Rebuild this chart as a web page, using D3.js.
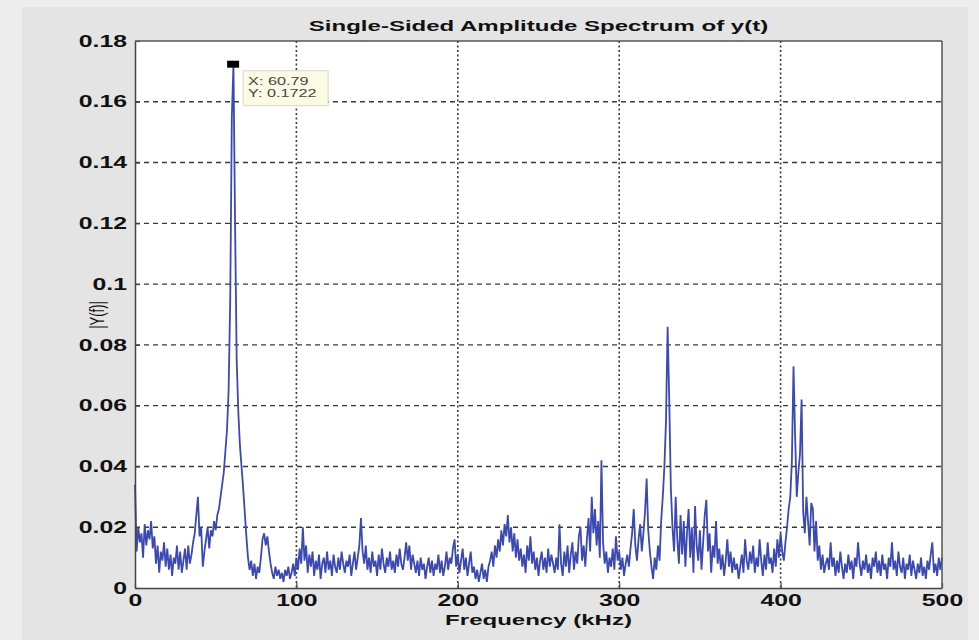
<!DOCTYPE html>
<html>
<head>
<meta charset="utf-8">
<script src="https://cdn.jsdelivr.net/npm/d3@7"></script>
<style>
  html, body { margin: 0; padding: 0; background: #ececec; }
  svg { display: block; }
</style>
</head>
<body>
<svg id="chart" width="979" height="640"></svg>
<script>
// ---------------- data ----------------
const titleText = "Single-Sided Amplitude Spectrum of y(t)";
const xLabelText = "Frequency (kHz)";
const yLabelText = "|Y(f)|";
const xTickValues = [0, 100, 200, 300, 400, 500];
const xTickLabels = ["0", "100", "200", "300", "400", "500"];
const yTickValues = [0, 0.02, 0.04, 0.06, 0.08, 0.1, 0.12, 0.14, 0.16, 0.18];
const yTickLabels = ["0", "0.02", "0.04", "0.06", "0.08", "0.1", "0.12", "0.14", "0.16", "0.18"];
const freqStepKHz = 1;
const amplitude = [
  .034,.012,.020,.015,.018,.010,.021,.014,.019,.016,
  .022,.013,.017,.008,.014,.005,.012,.009,.015,.007,
  .013,.006,.011,.004,.010,.008,.014,.006,.012,.005,
  .009,.013,.006,.014,.008,.011,.015,.018,.024,.030,
  .017,.020,.007,.012,.016,.020,.013,.019,.017,.022,
  .019,.024,.026,.030,.034,.038,.045,.052,.065,.095,
  .155,.1722,.120,.075,.058,.047,.040,.033,.025,.017,
  .010,.006,.009,.004,.008,.003,.007,.005,.010,.016,
  .018,.014,.017,.012,.008,.005,.003,.007,.004,.006,
  .003,.005,.002,.006,.004,.007,.003,.005,.008,.004,
  .010,.006,.013,.008,.020,.009,.014,.005,.011,.007,
  .012,.004,.009,.006,.011,.003,.008,.010,.005,.012,
  .006,.009,.004,.011,.007,.005,.010,.006,.012,.008,
  .005,.009,.007,.011,.004,.008,.012,.006,.010,.014,
  .023,.012,.008,.014,.006,.010,.005,.012,.007,.009,
  .004,.011,.006,.013,.008,.005,.010,.007,.012,.006,
  .009,.005,.011,.007,.013,.008,.006,.010,.015,.009,
  .014,.006,.011,.008,.005,.009,.004,.010,.006,.008,
  .003,.007,.010,.005,.009,.004,.008,.006,.011,.005,
  .009,.004,.007,.012,.006,.010,.008,.013,.016,.007,
  .011,.005,.009,.013,.006,.010,.004,.008,.012,.005,
  .007,.003,.006,.002,.005,.008,.003,.006,.002,.007,
  .009,.012,.007,.014,.010,.016,.012,.019,.014,.021,
  .017,.024,.015,.020,.012,.018,.010,.016,.009,.013,
  .007,.011,.005,.014,.009,.017,.008,.012,.006,.010,
  .004,.009,.012,.006,.010,.005,.013,.007,.011,.008,
  .005,.010,.006,.021,.008,.004,.012,.007,.014,.005,
  .011,.015,.006,.012,.008,.017,.020,.009,.014,.007,
  .016,.023,.012,.030,.018,.026,.014,.022,.010,.042,
  .015,.008,.012,.005,.010,.007,.013,.006,.017,.009,
  .012,.006,.010,.004,.008,.011,.007,.013,.018,.026,
  .014,.009,.016,.021,.012,.018,.025,.036,.019,.012,
  .007,.003,.010,.006,.014,.009,.022,.030,.040,.055,
  .086,.062,.033,.020,.012,.030,.016,.008,.024,.011,
  .022,.007,.018,.026,.010,.020,.005,.027,.014,.009,
  .019,.006,.015,.024,.029,.012,.018,.005,.014,.010,
  .022,.008,.013,.006,.011,.004,.009,.016,.007,.012,
  .005,.010,.006,.008,.003,.007,.011,.005,.016,.009,
  .006,.012,.008,.014,.005,.010,.007,.016,.009,.004,
  .011,.006,.015,.008,.010,.005,.013,.007,.016,.010,
  .018,.012,.009,.015,.020,.026,.030,.042,.073,.050,
  .030,.038,.044,.062,.025,.018,.030,.022,.014,.028,
  .026,.012,.022,.009,.014,.006,.011,.005,.008,.010,
  .006,.015,.007,.010,.004,.009,.005,.012,.007,.003,
  .008,.005,.011,.006,.009,.003,.010,.007,.015,.008,
  .004,.009,.006,.011,.005,.008,.003,.010,.007,.012,
  .005,.009,.004,.011,.006,.008,.003,.010,.007,.015,
  .006,.009,.004,.012,.007,.005,.010,.003,.008,.006,
  .011,.004,.009,.006,.003,.008,.005,.010,.004,.007,
  .003,.009,.006,.011,.015,.005,.008,.004,.010,.006,
  .010
];
const frequency = amplitude.map((_, i) => i * freqStepKHz);
const tipX = 60.79;
const tipY = 0.1722;
const tipLines = ["X: 60.79", "Y: 0.1722"];

// ---------------- layout ----------------
const svg = d3.select("#chart");
const W = 979, H = 640;
const plot = { left: 135, right: 942, top: 41, bottom: 588 };
const stretch = 1.55;   // text in the picture is widened horizontally
const fontFam = "Arial, 'Liberation Sans', Helvetica, sans-serif";

svg.append("rect").attr("x", 0).attr("y", 0).attr("width", W).attr("height", H).attr("fill", "#ededed");
svg.append("rect").attr("x", 22).attr("y", 7).attr("width", 946).attr("height", 640).attr("fill", "#e4e4e4");

const x = d3.scaleLinear().domain([0, 500]).range([plot.left, plot.right]);
const y = d3.scaleLinear().domain([0, 0.18]).range([plot.bottom, plot.top]);

svg.append("rect")
  .attr("x", plot.left).attr("y", plot.top)
  .attr("width", plot.right - plot.left).attr("height", plot.bottom - plot.top)
  .attr("fill", "#ffffff");

// grid
const grid = svg.append("g");
grid.selectAll("line.h").data(yTickValues.filter(v => v > 0 && v < 0.18)).enter().append("line")
  .attr("x1", plot.left).attr("x2", plot.right)
  .attr("y1", d => y(d)).attr("y2", d => y(d))
  .attr("stroke", "#3a3a3a").attr("stroke-width", 1.4).attr("stroke-dasharray", "5,4");
grid.selectAll("line.v").data(xTickValues.filter(v => v > 0 && v < 500)).enter().append("line")
  .attr("y1", plot.top).attr("y2", plot.bottom)
  .attr("x1", d => x(d)).attr("x2", d => x(d))
  .attr("stroke", "#3a3a3a").attr("stroke-width", 1.6).attr("stroke-dasharray", "2,2.5");

// spectrum line
const line = d3.line().x((d, i) => x(frequency[i])).y(d => y(d));
svg.append("path")
  .datum(amplitude)
  .attr("d", line)
  .attr("fill", "none")
  .attr("stroke", "#3b49b2")
  .attr("stroke-width", 1.8)
  .attr("stroke-linejoin", "miter");

// axes
const xAxis = d3.axisBottom(x).tickValues(xTickValues).tickFormat((d, i) => xTickLabels[i]).tickSizeInner(-5).tickSizeOuter(0).tickPadding(8);
const yAxis = d3.axisLeft(y).tickValues(yTickValues).tickFormat((d, i) => yTickLabels[i]).tickSizeInner(-5).tickSizeOuter(0).tickPadding(8);

const gx = svg.append("g").attr("transform", `translate(0,${plot.bottom})`).call(xAxis);
const gy = svg.append("g").attr("transform", `translate(${plot.left},0)`).call(yAxis);
[gx, gy].forEach(g => {
  g.select(".domain").attr("stroke", "#444").attr("stroke-width", 1.5);
  g.selectAll(".tick line").attr("stroke", "#444").attr("stroke-width", 1.2);
  g.selectAll(".tick text").attr("fill", "#111").attr("font-family", fontFam)
    .attr("font-weight", "bold").attr("font-size", "16px");
});
gy.selectAll(".tick text").attr("x", -8 / stretch).attr("transform", `scale(${stretch},1)`);
gx.selectAll(".tick text").attr("dy", "0.6em").attr("transform", `scale(${stretch},1)`);

// box top/right
svg.append("line").attr("x1", plot.left).attr("x2", plot.right).attr("y1", plot.top).attr("y2", plot.top)
  .attr("stroke", "#555").attr("stroke-width", 1.5);
svg.append("line").attr("x1", plot.right).attr("x2", plot.right).attr("y1", plot.top).attr("y2", plot.bottom)
  .attr("stroke", "#555").attr("stroke-width", 1.5);

// title and labels
function stretchedText(px, py, txt, opts) {
  return svg.append("text")
    .attr("transform", `translate(${px},${py}) scale(${stretch},1)`)
    .attr("text-anchor", "middle").attr("font-family", fontFam)
    .attr("font-weight", opts.bold ? "bold" : "normal")
    .attr("font-size", opts.size).attr("fill", "#111").text(txt);
}
stretchedText((plot.left + plot.right) / 2, 31, titleText, { bold: true, size: "15.5px" });
stretchedText((plot.left + plot.right) / 2, 625, xLabelText, { bold: true, size: "15.5px" });
svg.append("text").attr("transform", `translate(104,315) rotate(-90) scale(1,${stretch})`)
  .attr("text-anchor", "middle").attr("font-family", fontFam)
  .attr("font-size", "13px").attr("fill", "#111").text(yLabelText);

// data tip
svg.append("rect")
  .attr("x", x(tipX) - 6).attr("y", y(tipY) - 4).attr("width", 12).attr("height", 7)
  .attr("fill", "#000");
const tip = svg.append("g").attr("transform", `translate(${x(tipX) + 10},${y(tipY) + 6})`);
tip.append("rect").attr("x", 0).attr("y", 0).attr("width", 85).attr("height", 35)
  .attr("fill", "#fbfbe4").attr("stroke", "#d8d8c8").attr("stroke-width", 1);
tip.selectAll("text").data(tipLines).enter().append("text")
  .attr("transform", (d, i) => `translate(5,${14 + i * 12}) scale(${stretch * 0.95},1)`)
  .attr("font-family", fontFam).attr("font-size", "11px").attr("fill", "#444")
  .text(d => d);
</script>
</body>
</html>
